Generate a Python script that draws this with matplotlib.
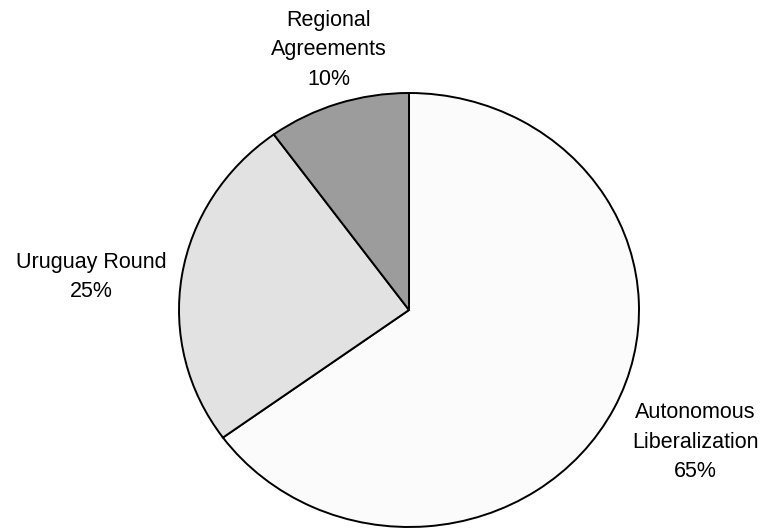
import matplotlib
matplotlib.use("Agg")
import matplotlib.pyplot as plt

# data
names = ["Autonomous\nLiberalization", "Uruguay Round", "Regional\nAgreements"]
shares = [65, 25, 10]
fills = ["#fbfbfb", "#e2e2e2", "#9c9c9c"]

# label positions in pixels (centre x, centre y of the text block)
label_pos = [(695, 442), (91, 277), (329, 50)]

plt.rcParams["font.family"] = ["Liberation Sans", "DejaVu Sans"]

W, H = 764, 528
fig = plt.figure(figsize=(W / 100, H / 100), dpi=100)
fig.patch.set_facecolor("white")

# pie is a bit wider than tall in the reference, so axes are not square
ax = fig.add_axes([179 / W, 1 / H, 460 / W, 434 / H])
wedges, _ = ax.pie(shares, colors=fills, startangle=90, counterclock=False,
                   wedgeprops=dict(edgecolor="black", linewidth=1.4))
ax.set_aspect("auto")
ax.set_xlim(-1, 1)
ax.set_ylim(-1, 1)
ax.axis("off")

for name, pct, (px, py) in zip(names, shares, label_pos):
    fig.text(px / W, 1 - py / H, f"{name}\n{pct}%", ha="center", va="center",
             fontsize=15.5, linespacing=1.55, color="black")

fig.savefig("out.png", dpi=100, facecolor="white")
